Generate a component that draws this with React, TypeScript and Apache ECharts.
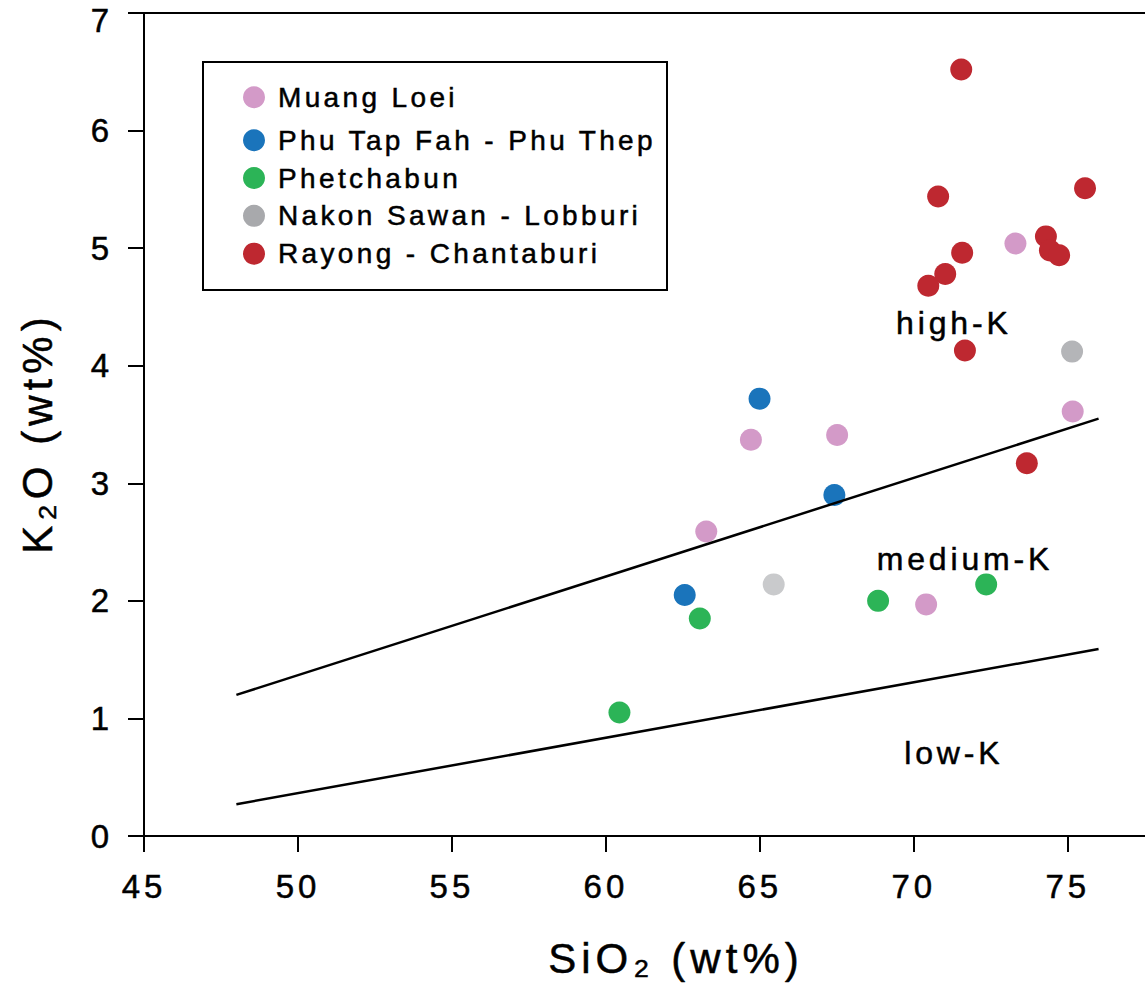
import React, { useEffect, useRef } from 'react';
import * as echarts from 'echarts';

const FONT = 'Liberation Sans, Arial, sans-serif';

const seriesNames = [
  'Muang Loei',
  'Phu Tap Fah - Phu Thep',
  'Phetchabun',
  'Nakon Sawan - Lobburi',
  'Rayong - Chantaburi',
];
const seriesColors = ['#D39AC8', '#1A74BB', '#2CB457', '#A8A9AC', '#BE2830'];

const muangLoei = [[73.3, 5.04], [75.16, 3.61], [64.71, 3.37], [67.51, 3.41], [63.26, 2.59], [70.4, 1.97]];
const phuTapFah = [[64.99, 3.72], [67.42, 2.9], [62.56, 2.05]];
const phetchabun = [[63.05, 1.85], [68.84, 2.0], [72.35, 2.14], [60.44, 1.05]];
const nakonSawan = [[75.14, 4.12], [65.45, 2.14]];
const nakonSawanShades = ['#B4B5B8', '#C9CACC'];
const rayong = [
  [71.54, 6.52], [70.79, 5.44], [75.56, 5.51], [74.29, 5.1], [74.42, 4.98], [74.72, 4.94],
  [71.57, 4.96], [71.02, 4.78], [70.47, 4.68], [71.66, 4.13], [73.67, 3.17],
];

const highMediumBoundary = [[48, 1.2], [76, 3.55]];
const mediumLowBoundary = [[48, 0.27], [76, 1.59]];

const fieldNames = ['high-K', 'medium-K', 'low-K'];
const fieldPositions = [[71.3, 4.36], [71.66, 2.36], [71.3, 0.71]];

const xTicks = [45, 50, 55, 60, 65, 70, 75];
const yTicks = [0, 1, 2, 3, 4, 5, 6, 7];

const groups = [muangLoei, phuTapFah, phetchabun, nakonSawan, rayong];

const heavy = { textBorderColor: '#000', textBorderWidth: 0.5 };

export default function App() {
  const ref = useRef<HTMLDivElement>(null);
  useEffect(() => {
    const prevOverflow = document.body.style.overflow;
    document.body.style.overflow = 'hidden';
    const chart = echarts.init(ref.current!, null, { renderer: 'svg' });
    const axisCommon = {
      type: 'value',
      axisLine: { show: true, lineStyle: { color: '#000', width: 2 } },
      axisTick: { show: true, inside: false, length: 16, lineStyle: { color: '#000', width: 2 } },
      splitLine: { show: false },
    };
    const scatterSeries = groups.map((g, i) => ({
      name: seriesNames[i],
      type: 'scatter',
      symbol: 'circle',
      symbolSize: 22,
      itemStyle: { color: seriesColors[i], opacity: 1 },
      z: 2,
      silent: true,
      data: g.map((p, j) =>
        i === 3 ? { value: p, itemStyle: { color: nakonSawanShades[j] } } : p
      ),
    }));
    const legendText = { fontSize: 28, color: '#000', fontFamily: FONT, padding: [0, 0, 0, 8], ...heavy };
    chart.setOption({
      animation: false,
      grid: {
        left: 144, top: 13, width: 1010, height: 823,
        show: true, borderColor: '#000', borderWidth: 2, backgroundColor: 'transparent',
      },
      xAxis: {
        ...axisCommon,
        min: xTicks[0],
        max: 77.8,
        interval: 5,
        axisLabel: {
          fontSize: 33, color: '#000', fontFamily: FONT, margin: 34, ...heavy,
          formatter: (v: number) => (xTicks.includes(v) ? String(v) : ''),
        },
      },
      yAxis: {
        ...axisCommon,
        min: yTicks[0],
        max: yTicks[yTicks.length - 1],
        interval: 1,
        axisLabel: {
          fontSize: 33, color: '#000', fontFamily: FONT, margin: 31, ...heavy,
          formatter: (v: number) => (v === yTicks[yTicks.length - 1] ? `{top|${v}}` : String(v)),
          rich: { top: { fontSize: 33, color: '#000', fontFamily: FONT, padding: [14, 0, 0, 0], ...heavy } },
        },
      },
      legend: [
        {
          data: [seriesNames[0]],
          orient: 'vertical', left: 243, top: 83, padding: 0,
          itemWidth: 22, itemHeight: 22, icon: 'circle', selectedMode: false,
          textStyle: legendText,
        },
        {
          data: seriesNames.slice(1),
          orient: 'vertical', left: 243, top: 126, padding: 0, itemGap: 9.3,
          itemWidth: 22, itemHeight: 22, icon: 'circle', selectedMode: false,
          textStyle: legendText,
        },
      ],
      graphic: [
        {
          type: 'rect', z: 0,
          shape: { x: 203, y: 62, width: 464, height: 228 },
          style: { fill: '#fff', stroke: '#000', lineWidth: 2 },
        },
        {
          type: 'text', x: 676, y: 958,
          style: { text: 'SiO₂ (wt%)', fontSize: 42, fontFamily: FONT, fill: '#000', align: 'center', verticalAlign: 'middle', stroke: '#000', lineWidth: 0.5 },
        },
        {
          type: 'text', x: 37, y: 433, rotation: Math.PI / 2,
          style: { text: 'K₂O (wt%)', fontSize: 42, fontFamily: FONT, fill: '#000', align: 'center', verticalAlign: 'middle', stroke: '#000', lineWidth: 0.5 },
        },
      ],
      series: [
        ...scatterSeries,
        {
          type: 'line', data: highMediumBoundary, symbol: 'none', silent: true, z: 3,
          lineStyle: { color: '#000', width: 2.5 },
        },
        {
          type: 'line', data: mediumLowBoundary, symbol: 'none', silent: true, z: 3,
          lineStyle: { color: '#000', width: 2.5 },
        },
        {
          type: 'scatter', symbolSize: 0, silent: true, z: 4,
          itemStyle: { color: '#000' },
          data: fieldNames.map((n, i) => ({ name: n, value: fieldPositions[i] })),
          label: {
            show: true, position: [0, 0], align: 'center', verticalAlign: 'middle', formatter: '{b}',
            fontSize: 32, color: '#000', fontFamily: FONT, opacity: 1, ...heavy,
          },
        },
      ],
    });
    return () => {
      chart.dispose();
      document.body.style.overflow = prevOverflow;
    };
  }, []);
  return (
    <>
      <style>{`.k2o-chart text { letter-spacing: 0.12em; }`}</style>
      <div
        ref={ref}
        className="k2o-chart"
        style={{ position: 'fixed', left: 0, top: 0, width: 1160, height: 986, background: '#fff' }}
      />
    </>
  );
}
